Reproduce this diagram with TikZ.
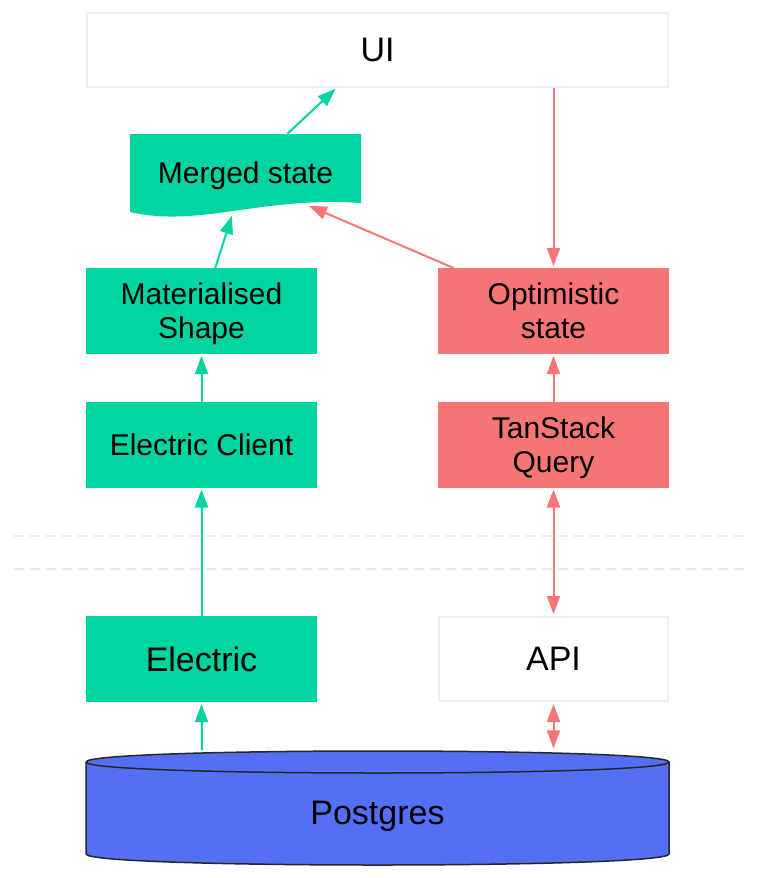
\documentclass[tikz,border=0pt]{standalone}
\usepackage{fontspec}
\setmainfont{Liberation Sans}
\usetikzlibrary{arrows.meta}
\definecolor{egreen}{RGB}{0,212,160}
\definecolor{ored}{RGB}{248,117,117}
\definecolor{pgblue}{RGB}{85,111,244}
\definecolor{boxgray}{RGB}{238,238,238}
\definecolor{dashgray}{RGB}{236,236,236}
\begin{document}
\begin{tikzpicture}[x=1pt,y=-1pt,
  smalltext/.style={font=\fontsize{30}{34}\selectfont, text depth=0pt},
  bigtext/.style={font=\fontsize{34}{40}\selectfont, text depth=0pt},
  gbox/.style={rectangle, fill=egreen, minimum width=231pt, minimum height=86pt, inner sep=0pt, outer sep=0pt, align=center, smalltext},
  rbox/.style={gbox, fill=ored},
  wbox/.style={rectangle, fill=white, draw=boxgray, line width=2pt, minimum height=74pt, inner sep=0pt, outer sep=1pt, bigtext},
  garrow/.style={draw=egreen, line width=2pt, -{Triangle[length=18pt,width=13pt]}, shorten >=2pt},
  rarrow/.style={draw=ored, line width=2pt, -{Triangle[length=18pt,width=13pt]}, shorten >=2pt},
  rboth/.style={draw=ored, line width=2pt, {Triangle[length=18pt,width=13pt]}-{Triangle[length=18pt,width=13pt]}, shorten >=2pt, shorten <=2pt},
  dashline/.style={draw=dashgray, line width=1.5pt, dash pattern=on 10pt off 6pt}
]
\useasboundingbox (0,0) rectangle (756,878);
\fill[white] (0,0) rectangle (756,878);

% separators
\draw[dashline] (14,536) -- (745,536);
\draw[dashline] (14,569) -- (745,569);

% merged state wavy shape
\fill[egreen] (130,134) -- (361,134) -- (361,203) .. controls (260,196) and (200,228) .. (130,212) -- cycle;

% postgres cylinder
\filldraw[fill=pgblue, draw=black!85, line width=1.5pt]
  (86,762) -- (86,854) .. controls (86,868.67) and (669,868.67) .. (669,854)
  -- (669,762) .. controls (669,747.33) and (86,747.33) .. (86,762) -- cycle;
\draw[draw=black!85, line width=1.5pt] (86,762) .. controls (86,776.67) and (669,776.67) .. (669,762);

% nodes
\node[wbox, minimum width=581pt] (ui) at (377.5,49.5) {UI};
\node[rectangle, minimum width=231pt, minimum height=78pt, inner sep=0pt, smalltext] (merged) at (245.5,173) {Merged state};
\node[gbox] (mat) at (201.5,311) {Materialised\\Shape};
\node[rbox] (opt) at (553.5,311) {Optimistic\\state};
\node[gbox] (ec) at (201.5,444.5) {Electric Client};
\node[rbox] (tq) at (553.5,444.5) {TanStack\\Query};
\node[gbox, bigtext] (el) at (201.5,659) {Electric};
\node[wbox, minimum width=229pt, minimum height=84pt] (api) at (553.5,659) {API};
\node[rectangle, minimum width=583pt, minimum height=125pt, inner sep=0pt, bigtext] (pg) at (377.5,813) {Postgres};

\coordinate (mw) at (232.5,214);
\coordinate (ow) at (307,205);

% connectors
\draw[garrow] (merged) -- (ui);
\draw[garrow] (mat) -- (mw);
\draw[rarrow] (opt) -- (ow);
\draw[rarrow] (ui.south -| opt.north) -- (opt.north);
\draw[garrow] (ec) -- (mat);
\draw[rarrow] (tq) -- (opt);
\draw[garrow] (el) -- (ec);
\draw[rboth] (tq) -- (api);
\draw[garrow] (el.south |- pg.north) -- (el);
\draw[rboth] (api.south |- pg.north) -- (api);
\end{tikzpicture}
\end{document}
